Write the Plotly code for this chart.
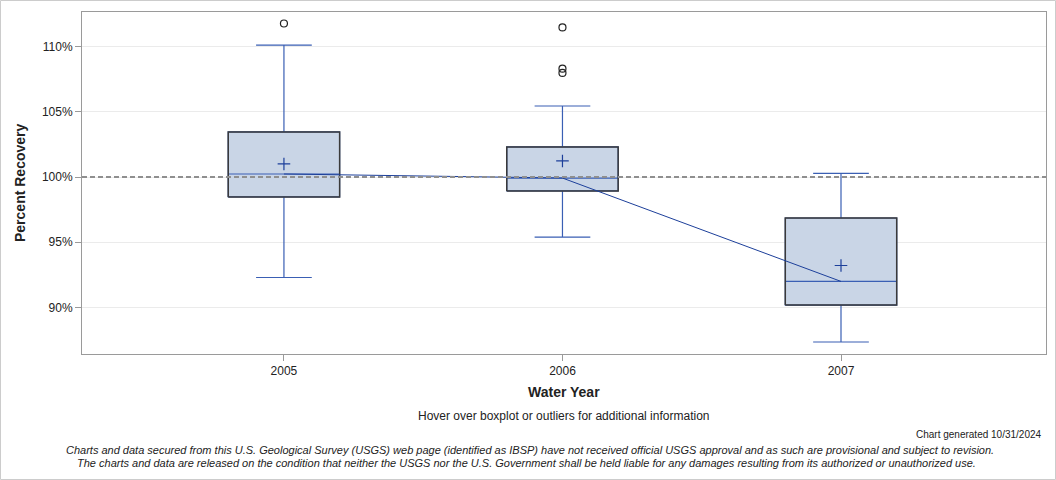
import plotly.graph_objects as go

years = ["2005", "2006", "2007"]
xpos = [0, 1, 2]
q1 = [98.47, 98.93, 90.19]
median = [100.23, 99.92, 92.0]
q3 = [103.45, 102.3, 96.86]
lower = [92.30, 95.40, 87.36]
upper = [110.11, 105.44, 100.27]
means = [101.0, 101.23, 93.22]
outlier_x = [0, 1, 1, 1]
outlier_y = [111.76, 111.46, 108.3, 107.97]
ytick_vals = [90, 95, 100, 105, 110]
ytick_text = ["90%", "95%", "100%", "105%", "110%"]

W, H = 1056, 480
ml, mr, mt, mb = 82, 10, 12, 126
pw, ph = W - ml - mr, H - mt - mb
half = 0.2

blue = "#3a5fb4"
dblue = "#1c3f9a"
fill = "#c9d5e6"

fig = go.Figure()
for i in range(3):
    fig.add_trace(go.Box(
        x=[xpos[i]], q1=[q1[i]], median=[median[i]], q3=[q3[i]],
        lowerfence=[lower[i]], upperfence=[upper[i]],
        width=2 * half, whiskerwidth=0.5, fillcolor=fill,
        line=dict(color=blue, width=1.2), boxpoints=False,
        showlegend=False, hoverinfo="skip"))

# dark outline of each box
ox, oy = [], []
for x, a, b in zip(xpos, q1, q3):
    ox += [x - half, x + half, x + half, x - half, x - half, None]
    oy += [a, a, b, b, a, None]
fig.add_trace(go.Scatter(x=ox, y=oy, mode="lines",
                         line=dict(color="#3a3a3a", width=1.5),
                         showlegend=False, hoverinfo="skip"))

# median connecting line
fig.add_trace(go.Scatter(x=xpos, y=median, mode="lines",
                         line=dict(color=dblue, width=1), showlegend=False))
# means
fig.add_trace(go.Scatter(x=xpos, y=means, mode="markers",
                         marker=dict(symbol="cross-thin", size=9,
                                     line=dict(color=dblue, width=1.2)),
                         showlegend=False))
# outliers
fig.add_trace(go.Scatter(x=outlier_x, y=outlier_y, mode="markers",
                         marker=dict(symbol="circle-open", size=7,
                                     line=dict(color="#222222", width=1.2),
                                     color="#222222"),
                         showlegend=False))

fig.add_shape(type="line", xref="paper", yref="y", x0=0, x1=1, y0=100, y1=100,
              line=dict(color="#8f8f8f", width=2, dash="5px,3px"), layer="above")
# outer border
fig.add_shape(type="rect", xref="paper", yref="paper",
              x0=(-ml + 0.5) / pw, x1=1 + (mr - 0.5) / pw,
              y0=(-mb + 0.5) / ph, y1=1 + (mt - 0.5) / ph,
              line=dict(color="#cccccc", width=1))

font = "Liberation Sans, Arial, sans-serif"
fig.update_layout(
    width=W, height=H, margin=dict(l=ml, r=mr, t=mt, b=mb),
    paper_bgcolor="white", plot_bgcolor="white",
    font=dict(family=font, size=12, color="#222222"),
    xaxis=dict(range=[-0.725, 2.736], tickvals=xpos, ticktext=years,
               showgrid=False, zeroline=False, showline=True, mirror=True,
               linecolor="#9a9a9a", linewidth=1, ticks="outside", ticklen=6,
               tickcolor="#9a9a9a", tickfont=dict(size=12)),
    yaxis=dict(range=[86.44, 112.64], tickmode="array", tickvals=ytick_vals,
               ticktext=ytick_text, showgrid=True, gridcolor="#ebebeb", gridwidth=1,
               zeroline=False, showline=True, mirror=True, linecolor="#9a9a9a",
               ticks="outside", ticklen=6, tickcolor="#9a9a9a",
               tickfont=dict(size=12)),
)

def py(pix):
    return (H - mb - pix) / ph

def px(pix):
    return (pix - ml) / pw

def note(text, x, y, size, xanchor="center", family=font, angle=0):
    fig.add_annotation(text=text, x=px(x), y=py(y), xref="paper", yref="paper",
                       xanchor=xanchor, yanchor="middle", showarrow=False,
                       textangle=angle, font=dict(size=size, family=family))

note("<b>Percent Recovery</b>", 20, 183, 14, angle=-90)
note("<b>Water Year</b>", 564, 392, 14)
note("Hover over boxplot or outliers for additional information", 563, 416, 12)
note("Chart generated 10/31/2024", 1044, 434, 10, xanchor="right")
note("<i>Charts and data secured from this U.S. Geological Survey (USGS) web page (identified as IBSP) have not received official USGS approval and as such are provisional and subject to revision.</i>",
     530, 450, 11)
note("<i>The charts and data are released on the condition that neither the USGS nor the U.S. Government shall be held liable for any damages resulting from its authorized or unauthorized use.</i>",
     526, 463, 11)

fig.write_html("out.html", config={"displayModeBar": False},
               post_script="document.body.style.margin='0';")
